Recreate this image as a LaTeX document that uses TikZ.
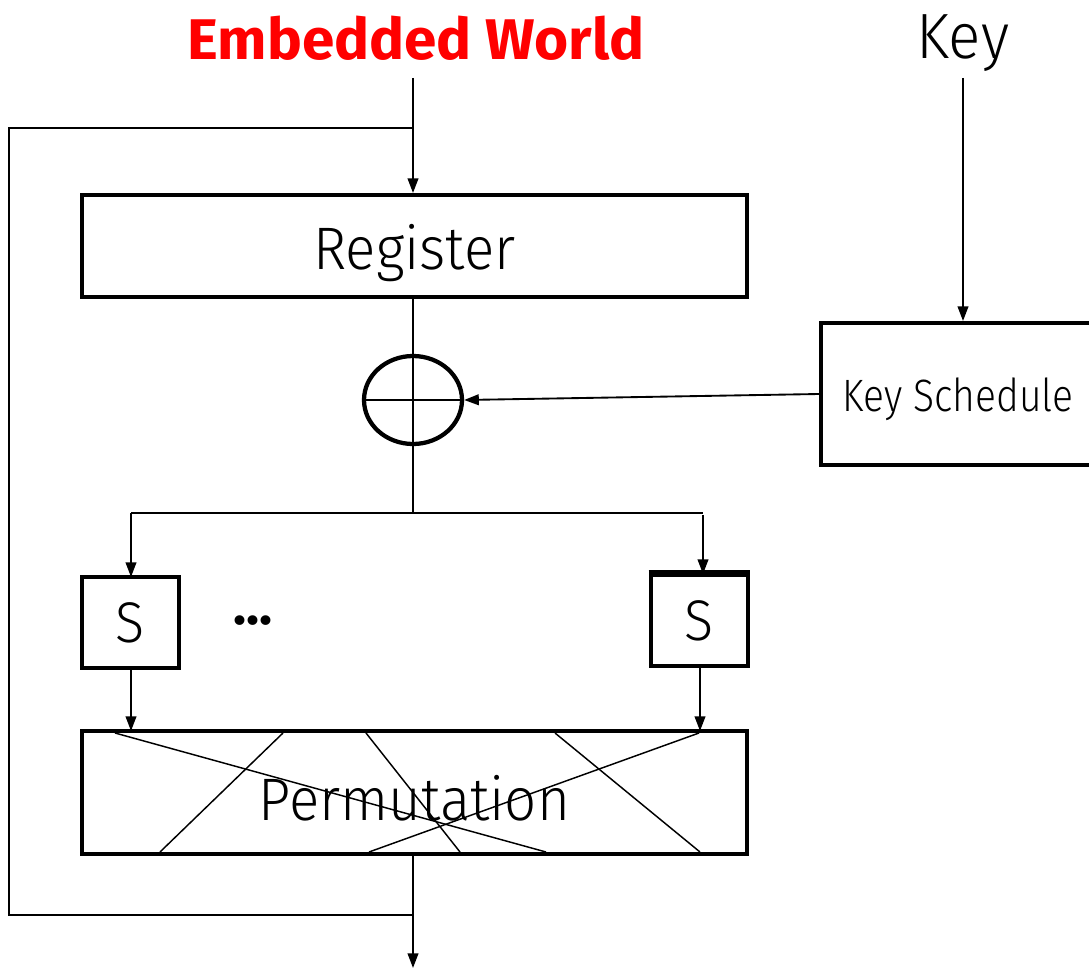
\documentclass[tikz,border=0pt]{standalone}
\usepackage{fontspec}
\setmainfont{Fira Sans Light}[FakeStretch=0.94, BoldFont={Fira Sans Bold}, BoldFeatures={FakeStretch=1.02}]
\newfontfamily\ksfont{Fira Sans Light}[FakeStretch=0.86]
\usetikzlibrary{arrows.meta,shapes.geometric}
\definecolor{titlered}{RGB}{255,0,0}
\tikzset{
  blk/.style={draw=black, line width=3pt, rectangle, inner sep=0pt, align=center},
  wire/.style={line width=1.4pt},
  arr/.style={wire, -{Triangle[length=11pt,width=8pt]}},
  perm line/.style={line width=1.1pt},
}
\begin{document}
\begin{tikzpicture}[x=0.75pt,y=-0.75pt]
\useasboundingbox (0,0) rectangle (1089,970);

% labels on top
\node[text=titlered, font=\fontsize{43}{50}\selectfont\bfseries] (title) at (416,38) {Embedded World};
\node[font=\fontsize{48}{54}\selectfont] (key) at (963,43) {Key};

% blocks
\node[blk, minimum width=498.75pt, minimum height=76.5pt] (reg) at (414.5,246) {};
\node[font=\fontsize{45}{50}\selectfont] (regtext) at (414.5,253) {Register};
\node[draw, ellipse, line width=3.2pt, minimum width=73.5pt, minimum height=66pt, inner sep=0pt] (xor) at (413,400) {};
\node[blk, minimum width=205.5pt, minimum height=106.5pt] (ks) at (958,394) {};
\node[font=\ksfont\fontsize{34}{40}\selectfont] (kstext) at (958,399) {Key Schedule};
\node[blk, minimum width=72.75pt, minimum height=68.25pt, font=\fontsize{43}{50}\selectfont] (s1) at (130.5,622.5) {S};
\node[blk, line width=3.4pt, minimum width=72.75pt, minimum height=68.25pt, font=\fontsize{43}{50}\selectfont] (s2) at (699.5,620.5) {S};
% heavier top edge of the last S-box
\draw[line width=2.6pt] ([yshift=1.1pt]s2.north west) -- ([yshift=1.1pt]s2.north east);
\node[font=\fontsize{40}{46}\selectfont\bfseries] (dots) at (253,621) {...};
\node[blk, minimum width=498.75pt, minimum height=92.25pt] (perm) at (414.5,792.5) {};

% xor cross
\draw[line width=1.5pt] (xor.west) -- (xor.east);

% permutation wiring inside the box
\draw[perm line] (115,733) -- (546,852);
\draw[perm line] (283,733) -- (160,852);
\draw[perm line] (366,733) -- (460,852);
\draw[perm line] (555,733) -- (700,852);
\draw[perm line] (699,733) -- (369,852);
\node[font=\fontsize{45}{50}\selectfont] (permtext) at (414.5,798) {Permutation};

% data path
\coordinate (in) at (413,78);
\coordinate (fbtop) at (413,128);
\coordinate (fbbot) at (413,915);
\coordinate (br) at (413,513);
\coordinate (out) at (413,968);
\coordinate (keyin) at (963,78);

\draw[arr] (in) -- (in |- reg.north);
\draw[wire] (fbtop) -- (9,128) -- (9,915) -- (fbbot);
\draw[wire] (reg.south -| in) -- (br);
\draw[wire] (131,513) -- (br) -- (703,513);
\draw[arr] (131,513) -- (131,577);
\draw[arr] (703,515) -- (703,574);
\draw[arr] (131,668) -- (131,731);
\draw[arr] (700,666) -- (700,731);
\draw[arr] (perm.south -| in) -- (out);
\draw[arr] (keyin) -- (keyin |- ks.north);
\draw[arr] (ks.west) -- (xor.east);
\end{tikzpicture}
\end{document}
